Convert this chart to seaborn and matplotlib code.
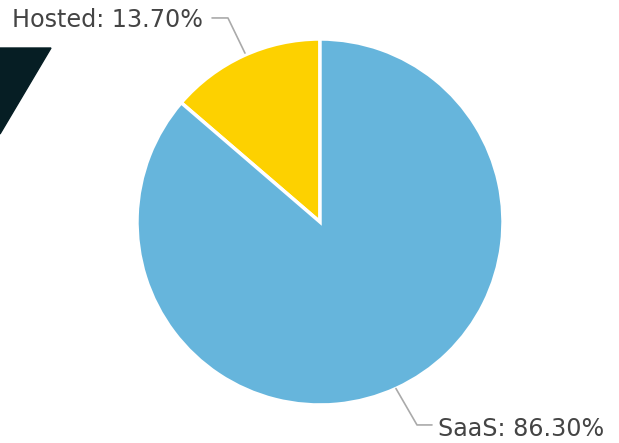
import numpy as np
import seaborn as sns
import matplotlib.pyplot as plt
from matplotlib.patches import Polygon

sns.set_theme(style="white")
plt.rcParams['font.family'] = ['DejaVu Sans']

labels = ['Hosted', 'SaaS']
shares = [13.70, 86.30]
colors = ['#fdd100', '#66b5dc']

W, H = 619, 443
fig = plt.figure(figsize=(W / 100, H / 100), dpi=100)

# dark corner shape in the top-left
corner = Polygon([(0 / W, 1 - 48 / H), (51 / W, 1 - 48 / H), (0 / W, 1 - 134 / H)],
                 closed=True, transform=fig.transFigure, color='#061e24')
fig.patches.append(corner)

# pie centred at (320, 222), radius 183 px
ax = fig.add_axes([137 / W, (H - 405) / H, 366 / W, 366 / H])
ax.pie(shares, colors=colors, startangle=90, counterclock=True, radius=1,
       wedgeprops=dict(edgecolor='white', linewidth=2.5))
ax.set_xlim(-1, 1)
ax.set_ylim(-1, 1)
ax.set_aspect('equal')
ax.axis('off')

# leader lines and labels
line_kw = dict(color='#aaaaaa', lw=1.2, clip_on=False)
ax.plot([-0.41, -0.503, -0.590], [0.923, 1.115, 1.115], **line_kw)
ax.text(-0.64, 1.105, f'{labels[0]}: {shares[0]:.2f}%', ha='right', va='center',
        fontsize=17.2, color='#444444')
ax.plot([0.415, 0.530, 0.612], [-0.91, -1.109, -1.109], **line_kw)
ax.text(0.645, -1.13, f'{labels[1]}: {shares[1]:.2f}%', ha='left', va='center',
        fontsize=17.2, color='#444444')

fig.savefig('out.png', dpi=100)
